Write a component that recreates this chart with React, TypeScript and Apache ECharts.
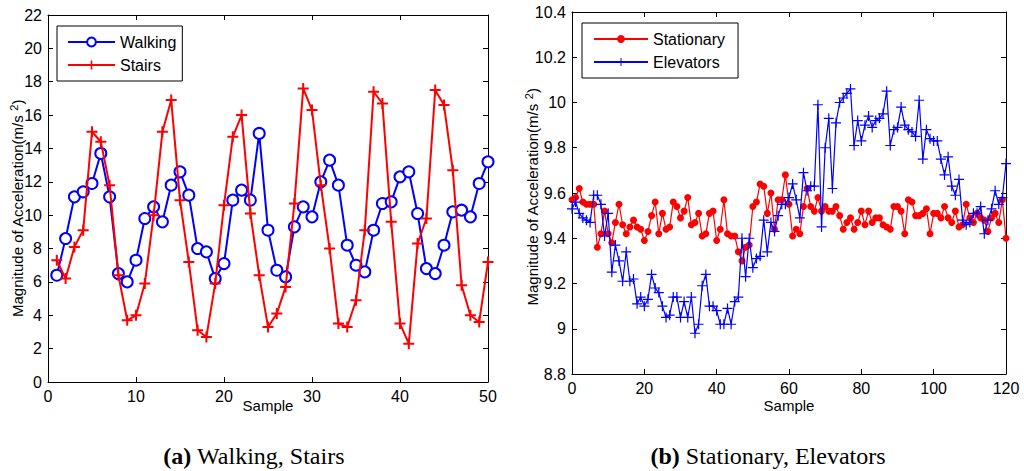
import React, { useEffect, useRef } from "react";
import * as echarts from "echarts";

// ---- Data ----
const walking = [6.4, 8.6, 11.1, 11.4, 11.9, 13.7, 11.1, 6.5, 6.0, 7.3, 9.8, 10.5, 9.6, 11.8, 12.6, 11.2, 8.0, 7.8, 6.2, 7.1, 10.9, 11.5, 10.9, 14.9, 9.1, 6.7, 6.3, 9.3, 10.5, 9.9, 12.0, 13.3, 11.8, 8.2, 7.0, 6.6, 9.1, 10.7, 10.8, 12.3, 12.6, 10.1, 6.8, 6.5, 8.2, 10.2, 10.3, 9.9, 11.9, 13.2];
const stairs = [7.3, 6.2, 8.1, 9.1, 15.0, 14.4, 11.8, 6.4, 3.7, 4.0, 5.9, 10.0, 15.0, 16.9, 10.9, 7.2, 3.1, 2.7, 5.9, 10.6, 14.7, 16.0, 10.1, 6.4, 3.3, 4.1, 5.7, 10.7, 17.6, 16.3, 11.8, 8.0, 3.5, 3.3, 4.9, 9.1, 17.4, 16.7, 9.6, 3.5, 2.3, 8.3, 9.8, 17.5, 16.6, 12.7, 5.8, 4.0, 3.6, 7.2];
const stationary = [9.57, 9.58, 9.62, 9.56, 9.55, 9.55, 9.55, 9.36, 9.42, 9.52, 9.42, 9.38, 9.47, 9.55, 9.46, 9.42, 9.45, 9.48, 9.45, 9.44, 9.39, 9.43, 9.50, 9.56, 9.42, 9.51, 9.44, 9.45, 9.56, 9.54, 9.49, 9.52, 9.58, 9.46, 9.47, 9.51, 9.41, 9.42, 9.51, 9.52, 9.39, 9.44, 9.57, 9.42, 9.41, 9.41, 9.34, 9.30, 9.36, 9.37, 9.54, 9.56, 9.64, 9.63, 9.51, 9.60, 9.44, 9.57, 9.57, 9.68, 9.55, 9.41, 9.44, 9.42, 9.54, 9.62, 9.54, 9.52, 9.58, 9.52, 9.54, 9.52, 9.52, 9.54, 9.50, 9.44, 9.47, 9.49, 9.44, 9.47, 9.52, 9.46, 9.52, 9.47, 9.49, 9.49, 9.46, 9.45, 9.44, 9.54, 9.54, 9.52, 9.42, 9.57, 9.56, 9.50, 9.50, 9.51, 9.53, 9.42, 9.51, 9.51, 9.49, 9.54, 9.49, 9.47, 9.52, 9.45, 9.46, 9.55, 9.49, 9.47, 9.51, 9.49, 9.48, 9.43, 9.49, 9.51, 9.47, 9.57, 9.40];
const elevators = [9.53, 9.56, 9.51, 9.49, 9.48, 9.47, 9.59, 9.59, 9.55, 9.41, 9.51, 9.25, 9.37, 9.30, 9.21, 9.34, 9.21, 9.22, 9.11, 9.14, 9.10, 9.13, 9.24, 9.18, 9.16, 9.10, 9.05, 9.06, 9.14, 9.14, 9.05, 9.12, 9.05, 9.14, 8.98, 9.02, 9.19, 9.24, 9.10, 9.10, 9.08, 9.02, 9.02, 9.09, 9.02, 9.12, 9.14, 9.40, 9.23, 9.40, 9.27, 9.31, 9.32, 9.48, 9.34, 9.47, 9.43, 9.50, 9.55, 9.55, 9.58, 9.64, 9.57, 9.49, 9.69, 9.61, 9.63, 9.63, 9.99, 9.45, 9.80, 9.93, 9.62, 9.91, 10.00, 10.02, 10.04, 10.06, 9.81, 9.92, 9.83, 9.90, 9.94, 9.89, 9.92, 9.93, 9.95, 10.05, 9.81, 9.88, 9.89, 9.98, 9.90, 9.88, 9.87, 9.85, 10.01, 9.75, 9.88, 9.84, 9.83, 9.83, 9.75, 9.68, 9.76, 9.63, 9.59, 9.66, 9.48, 9.46, 9.47, 9.51, 9.51, 9.54, 9.42, 9.48, 9.53, 9.61, 9.55, 9.58, 9.73];

const leftFirstSample = 1;
const rightFirstSample = 0;
const leftXTicks = { min: 0, max: 50, interval: 10 };
const leftYTicks = { min: 0, max: 22, interval: 2 };
const rightXTicks = { min: 0, max: 120, interval: 20 };
const rightYTicks = { min: 8.8, max: 10.4, interval: 0.2 };

const SANS = "'Liberation Sans', Arial, Helvetica, sans-serif";
const SERIF = "'Liberation Serif', 'Times New Roman', serif";
const BLUE = "#0000ff";
const RED = "#ff0000";

const plusThick = "path://M-1,-5.5H1V-1H5.5V1H1V5.5H-1V1H-5.5V-1H-1Z";
const plusThin = "path://M-0.6,-5H0.6V-0.6H5V0.6H0.6V5H-0.6V0.6H-5V-0.6H-0.6Z";

function pts(values: number[], first: number) {
  return values.map((v, i) => [first + i, v]);
}

function axisBase(gridIndex: number, ticks: any, opts: any = {}) {
  return {
    type: "value",
    gridIndex,
    min: ticks.min,
    max: ticks.max,
    interval: ticks.interval,
    nameMoveOverlap: false,
    splitLine: { show: false },
    axisLine: { show: true, onZero: false, lineStyle: { color: "#000", width: 1 } },
    axisTick: { show: true, inside: true, length: 5, lineStyle: { color: "#000", width: 1 } },
    axisLabel: { show: true, color: "#000", fontSize: 16, fontFamily: SANS, margin: 6 },
    ...opts,
  };
}

const yName = "{t|Magnitude of Acceleration(m/s }{s|2}{t|)}";

const yNameStyle = (padRight: number) => ({
  color: "#000",
  fontFamily: SANS,
  padding: [0, padRight, 0, 0],
  rich: {
    t: { fontSize: 15, fontFamily: SANS, color: "#000", lineHeight: 18 },
    s: { fontSize: 11, fontFamily: SANS, color: "#000", verticalAlign: "top", lineHeight: 12 },
  },
});

function caption(x: number, tag: string, rest: string) {
  return {
    type: "text",
    x,
    y: 456,
    style: {
      text: `{b|${tag}}{r| ${rest}}`,
      fill: "#000",
      align: "center",
      verticalAlign: "middle",
      rich: {
        b: { fontWeight: "bold", fontSize: 24, fontFamily: SERIF, fill: "#000" },
        r: { fontSize: 24, fontFamily: SERIF, fill: "#000" },
      },
    },
  };
}

export default function App() {
  const ref = useRef<HTMLDivElement>(null);

  useEffect(() => {
    document.body.style.margin = "0";
    if (!ref.current) return;
    const chart = echarts.init(ref.current, null, { renderer: "svg" });

    const option: any = {
      animation: false,
      backgroundColor: "#fff",
      textStyle: { fontFamily: SANS },
      grid: [
        { left: 48, top: 15, width: 440, height: 367, show: false },
        { left: 572, top: 12, width: 434, height: 362, show: false },
      ],
      xAxis: [
        axisBase(0, leftXTicks, {
          name: "Sample",
          nameLocation: "middle",
          nameGap: 16,
          nameTextStyle: { color: "#000", fontSize: 15, fontFamily: SANS },
        }),
        axisBase(0, leftXTicks, { position: "top", axisLabel: { show: false } }),
        axisBase(1, rightXTicks, {
          name: "Sample",
          nameLocation: "middle",
          nameGap: 24,
          nameTextStyle: { color: "#000", fontSize: 15, fontFamily: SANS },
        }),
        axisBase(1, rightXTicks, { position: "top", axisLabel: { show: false } }),
      ],
      yAxis: [
        axisBase(0, leftYTicks, {
          name: yName,
          nameLocation: "middle",
          nameGap: 22,
          nameTextStyle: yNameStyle(20),
        }),
        axisBase(0, leftYTicks, { position: "right", axisLabel: { show: false } }),
        axisBase(1, rightYTicks, {
          name: yName,
          nameLocation: "middle",
          nameGap: 31,
          nameTextStyle: yNameStyle(8),
        }),
        axisBase(1, rightYTicks, { position: "right", axisLabel: { show: false } }),
      ],
      legend: [
        {
          data: ["Walking", "Stairs"],
          orient: "vertical",
          left: 57,
          top: 26,
          backgroundColor: "#fff",
          borderColor: "#000",
          borderWidth: 1,
          borderRadius: 0,
          padding: [8, 6, 8, 10],
          itemWidth: 47,
          itemHeight: 11,
          itemGap: 7,
          textStyle: { color: "#000", fontSize: 16, fontFamily: SANS },
        },
        {
          data: ["Stationary", "Elevators"],
          orient: "vertical",
          left: 582,
          top: 23,
          backgroundColor: "#fff",
          borderColor: "#000",
          borderWidth: 1,
          borderRadius: 0,
          padding: [8, 13, 8, 11],
          itemWidth: 54,
          itemHeight: 10,
          itemGap: 7,
          textStyle: { color: "#000", fontSize: 16, fontFamily: SANS },
        },
      ],
      series: [
        {
          name: "Walking",
          type: "line",
          xAxisIndex: 0,
          yAxisIndex: 0,
          data: pts(walking, leftFirstSample),
          symbol: "circle",
          symbolSize: 11,
          showAllSymbol: true,
          lineStyle: { color: BLUE, width: 2 },
          itemStyle: { color: "#fff", borderColor: BLUE, borderWidth: 2 },
          z: 3,
        },
        {
          name: "Stairs",
          type: "line",
          xAxisIndex: 0,
          yAxisIndex: 0,
          data: pts(stairs, leftFirstSample),
          symbol: plusThick,
          symbolSize: 11,
          showAllSymbol: true,
          lineStyle: { color: RED, width: 2 },
          itemStyle: { color: RED, borderWidth: 0 },
          z: 4,
        },
        {
          name: "Stationary",
          type: "line",
          xAxisIndex: 2,
          yAxisIndex: 2,
          data: pts(stationary, rightFirstSample),
          symbol: "circle",
          symbolSize: 7,
          showAllSymbol: true,
          lineStyle: { color: RED, width: 1.2 },
          itemStyle: { color: RED, borderWidth: 0 },
          z: 3,
        },
        {
          name: "Elevators",
          type: "line",
          xAxisIndex: 2,
          yAxisIndex: 2,
          data: pts(elevators, rightFirstSample),
          symbol: plusThin,
          symbolSize: 10,
          showAllSymbol: true,
          lineStyle: { color: BLUE, width: 1.2 },
          itemStyle: { color: BLUE, borderWidth: 0 },
          z: 4,
        },
      ],
      graphic: [
        caption(254, "(a)", "Walking, Stairs"),
        caption(768, "(b)", "Stationary, Elevators"),
      ],
    };

    chart.setOption(option);
    return () => chart.dispose();
  }, []);

  return <div ref={ref} style={{ width: 1024, height: 471 }} />;
}
